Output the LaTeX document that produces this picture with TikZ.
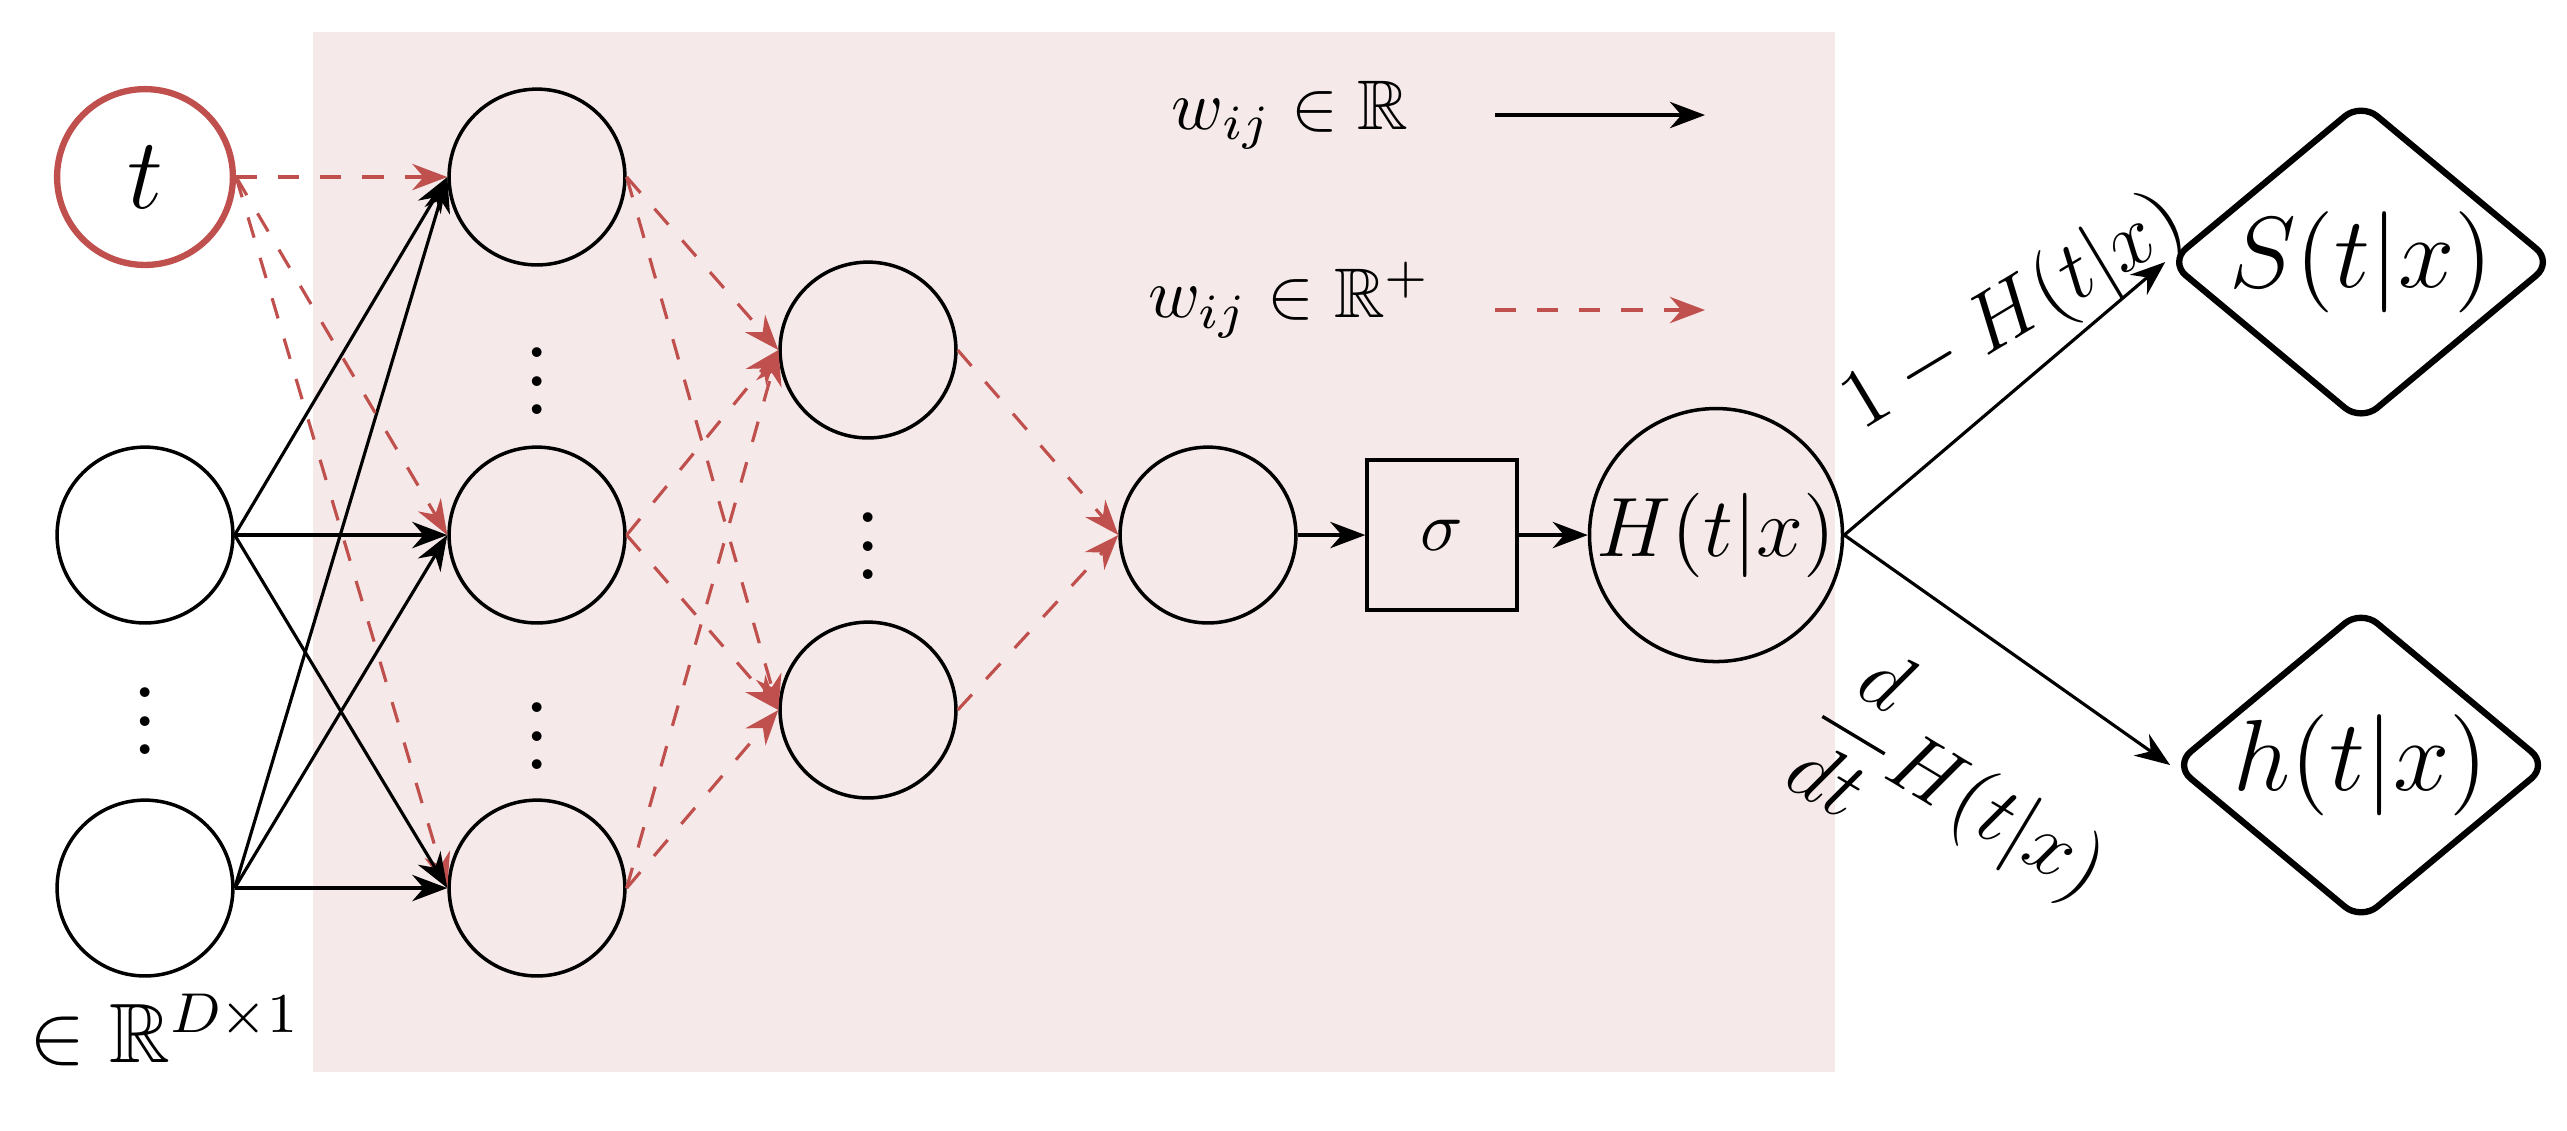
\documentclass[tikz,border=0pt]{standalone}
\usepackage{amsmath,amssymb}
\usetikzlibrary{shapes.geometric,arrows.meta}
\definecolor{bg}{HTML}{F5EAE9}
\definecolor{rd}{HTML}{C0504D}
\begin{document}
\begin{tikzpicture}[x=0.005cm,y=-0.005cm,
  neu/.style={circle,draw,line width=0.5pt,minimum size=0.88cm,inner sep=0pt},
  blk/.style={-{Stealth[length=5pt]},line width=0.45pt},
  red/.style={-{Stealth[length=5pt]},dashed,draw=rd,line width=0.45pt,rd},
  dia/.style={diamond,draw,line width=0.9pt,rounded corners=3pt,minimum width=1.5cm,minimum height=1.25cm,inner sep=0pt,aspect=1.2}]
\useasboundingbox (0,0) rectangle (2567,1130);
\fill[bg] (313,32) rectangle (1835,1072);
\node[neu,draw=rd,line width=0.9pt] (t) at (145,177) {\Large $t$};
\node[neu] (i1) at (145,535) {};
\node[neu] (i2) at (145,888) {};
\node at (145,700) {\Large$\vdots$};
\node[neu] (a1) at (537,177) {};
\node[neu] (a2) at (537,535) {};
\node[neu] (a3) at (537,888) {};
\node at (537,360) {\Large$\vdots$};
\node at (537,715) {\Large$\vdots$};
\node[neu] (b1) at (868,350) {};
\node[neu] (b2) at (868,710) {};
\node at (868,525) {\Large$\vdots$};
\node[neu] (c) at (1208,535) {};
\node[draw,line width=0.5pt,minimum size=0.75cm] (s) at (1442,535) {$\sigma$};
\node[neu] (H) at (1716,535) {\large$H(t|x)$};
\node[dia] (S) at (2361,262) {\Large$S(t|x)$};
\node[dia] (h) at (2361,765) {\Large$h(t|x)$};
\node at (165,1030) {\large$\in\mathbb{R}^{D\times 1}$};
\foreach \a in {a1,a2,a3}{\draw[red] (t.east) -- (\a.west);
  \draw[blk] (i1.east) -- (\a.west); \draw[blk] (i2.east) -- (\a.west);}
\foreach \a in {a1,a2,a3}{\foreach \b in {b1,b2}{\draw[red] (\a.east) -- (\b.west);}}
\foreach \b in {b1,b2}{\draw[red] (\b.east) -- (c.west);}
\draw[blk] (c) -- (s);
\draw[blk] (s) -- (H);
\draw[blk] (H.east) -- (S.west);
\draw[blk] (H.east) -- (h.west);
\node (l1) at (1290,115) {$w_{ij}\in\mathbb{R}$};
\coordinate (l1a) at (1495,115); \coordinate (l1b) at (1705,115);
\draw[blk] (l1a) -- (l1b);
\node (l2) at (1290,300) {$w_{ij}\in\mathbb{R}^{+}$};
\coordinate (l2a) at (1495,310); \coordinate (l2b) at (1705,310);
\draw[red] (l2a) -- (l2b);
\node[rotate=31] at (2015,315) {\large$1-H(t|x)$};
\node[rotate=-31] at (1960,790) {\large$\dfrac{d}{dt}H(t|x)$};
\end{tikzpicture}
\end{document}
